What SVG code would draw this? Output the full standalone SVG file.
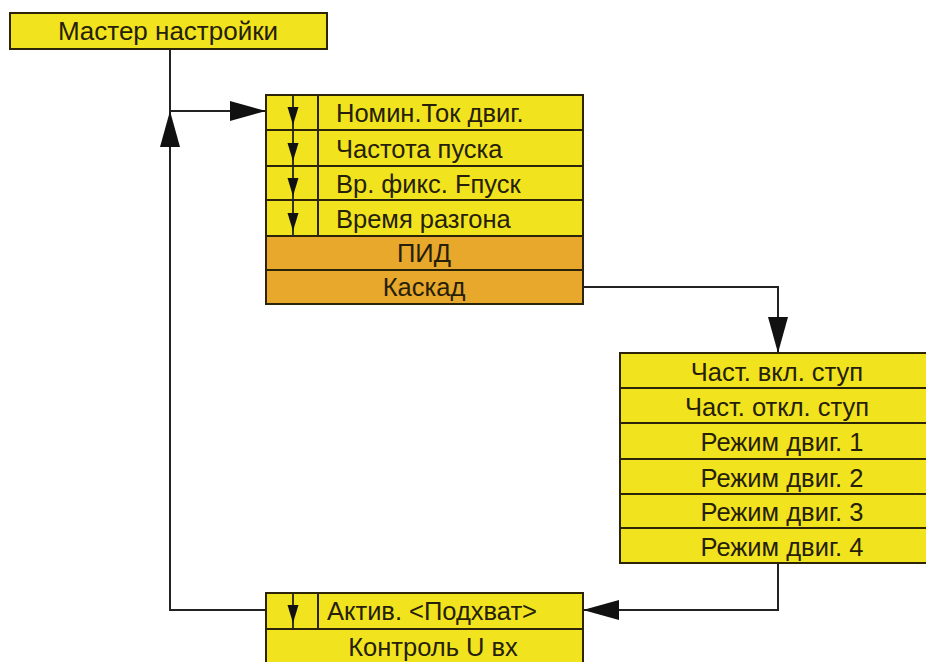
<svg xmlns="http://www.w3.org/2000/svg" width="926" height="662" viewBox="0 0 926 662">
  <style>
    .y { fill: #f1e41f; stroke: #2b2408; stroke-width: 2; }
    .o { fill: #e8a82c; stroke: #2b2408; stroke-width: 2; }
    .div { stroke: #2b2408; stroke-width: 2; fill: none; }
    .t { font-family: "Liberation Sans", Arial, sans-serif; font-size: 25.5px; fill: #262008; }
    .c { text-anchor: middle; }
    .wire { stroke: #222; stroke-width: 2; fill: none; }
    .tick { stroke: #222; stroke-width: 1.8; fill: none; }
  </style>
  <defs>
    <marker id="big" viewBox="0 0 36 20" refX="36" refY="10" markerWidth="36" markerHeight="20" markerUnits="userSpaceOnUse" orient="auto">
      <path d="M0,0 L36,10 L0,20 Z" fill="#111"/>
    </marker>
    <path id="tri" d="M-5.5,0 L5.5,0 L0,18 Z" fill="#111"/>
  </defs>

  <!-- connectors -->
  <g id="connectors">
    <path class="wire" d="M170,49 V111 H266" marker-end="url(#big)"/>
    <path class="wire" d="M266,610 H170 V111" marker-end="url(#big)"/>
    <path class="wire" d="M583,287 H778 V353" marker-end="url(#big)"/>
    <path class="wire" d="M778,563 V610 H583" marker-end="url(#big)"/>
  </g>

  <!-- top node -->
  <g id="master">
    <rect class="y" x="10" y="13" width="317" height="36"/>
    <text class="t c" x="168" y="40" style="font-size:26px">Мастер настройки</text>
  </g>

  <!-- main settings list -->
  <g id="main-list">
    <rect class="y" x="266" y="95" width="317" height="141"/>
    <rect class="o" x="266" y="236" width="317" height="68"/>
    <path class="div" d="M266,130 H583 M266,166 H583 M266,200 H583 M266,270 H583 M318,95 V236"/>
    <line class="tick" x1="293" y1="95" x2="293" y2="236"/>
    <use href="#tri" x="293" y="107"/>
    <use href="#tri" x="293" y="143"/>
    <use href="#tri" x="293" y="178"/>
    <use href="#tri" x="293" y="213"/>
    <text class="t" x="336" y="122">Номин.Ток двиг.</text>
    <text class="t" x="336" y="158">Частота пуска</text>
    <text class="t" x="336" y="193">Вр. фикс. Fпуск</text>
    <text class="t" x="336" y="228">Время разгона</text>
    <text class="t c" x="424" y="262">ПИД</text>
    <text class="t c" x="424" y="296">Каскад</text>
  </g>

  <!-- cascade list -->
  <g id="cascade-list">
    <rect class="y" x="620" y="353" width="318" height="210"/>
    <path class="div" d="M620,388 H938 M620,423 H938 M620,459 H938 M620,494 H938 M620,528 H938"/>
    <text class="t c" x="777" y="381">Част. вкл. ступ</text>
    <text class="t c" x="777" y="416">Част. откл. ступ</text>
    <text class="t c" x="782" y="451">Режим двиг. 1</text>
    <text class="t c" x="782" y="487">Режим двиг. 2</text>
    <text class="t c" x="782" y="521">Режим двиг. 3</text>
    <text class="t c" x="782" y="556">Режим двиг. 4</text>
  </g>

  <!-- bottom list -->
  <g id="bottom-list">
    <rect class="y" x="266" y="593" width="317" height="75"/>
    <path class="div" d="M266,629 H583 M318,593 V629"/>
    <line class="tick" x1="293" y1="593" x2="293" y2="629"/>
    <use href="#tri" x="293" y="605"/>
    <text class="t" x="327" y="620">Актив. &lt;Подхват&gt;</text>
    <text class="t c" x="433" y="656">Контроль U вх</text>
  </g>
</svg>
